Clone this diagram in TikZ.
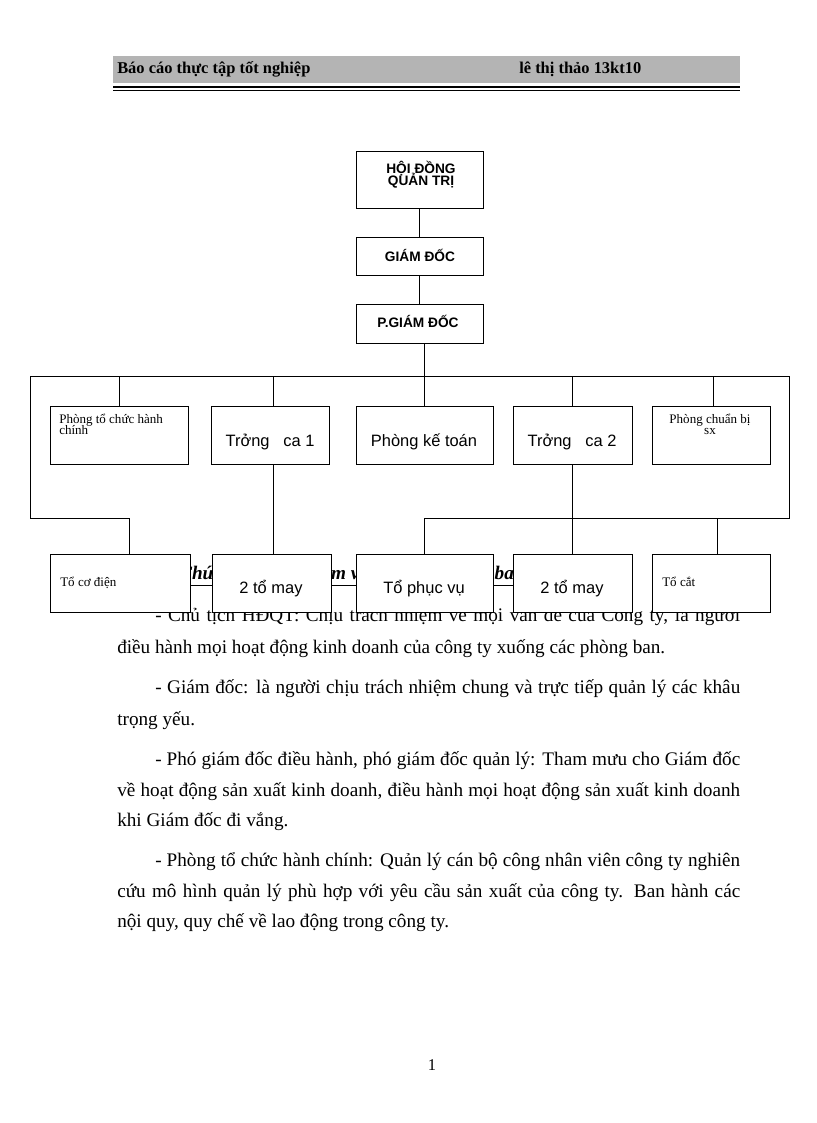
\documentclass[tikz,border=0pt]{standalone}
\usepackage{fontspec}
\setmainfont{Liberation Serif}
\newfontfamily\arialf{Liberation Sans}
\newcommand\orgbox[5]{\node[obox, minimum width={(#4-#2)*0.7294pt}, minimum height={(#5-#3)*0.7294pt}] (#1) at ({(#2+#4)/2},{(#3+#5)/2}) {};}
\newcommand\fullline[1]{\makebox[454.4pt][s]{#1}}
\newcommand\indline[1]{\makebox[426.7pt][s]{#1}}
\definecolor{hdrgray}{RGB}{180,180,180}
\begin{document}
\begin{tikzpicture}[x=0.7294pt,y=-0.7294pt,
  obox/.style={draw, fill=white, inner sep=0pt, line width=0.7pt},
  conn/.style={line width=0.7pt},
  body/.style={anchor=base west, inner sep=0pt, font=\fontsize{14}{16}\selectfont},
  hdr/.style={anchor=base west, inner sep=0pt, font=\fontsize{12}{14}\selectfont\bfseries},
  small/.style={inner sep=0pt, font=\fontsize{9.5}{10}\selectfont},
  big/.style={anchor=base, inner sep=0pt, font=\arialf\fontsize{12}{14}\selectfont},
  top/.style={anchor=base, inner sep=0pt, font=\arialf\bfseries\fontsize{10}{10}\selectfont}]
\useasboundingbox (0,0) rectangle (816,1123);
% header
\fill[hdrgray] (113,56) rectangle (740,83);
\draw[line width=1.5pt] (113,87.3) -- (740,87.3);
\draw[line width=0.6pt] (113,90.8) -- (740,90.8);
\node[hdr] (h1) at (117,73) {Báo cáo thực tập tốt nghiệp};
\node[hdr] (h2) at (519,73) {lê thị thảo 13kt10};
% heading hidden behind boxes
\node[anchor=base west, inner sep=0pt, font=\fontsize{14}{16}\selectfont\bfseries\itshape] (head) at (179,579) {\underline{Chức năng và nhiệm vụ của các phòng ban}};
% body text
\node[body] (l1) at (155,621) {\indline{- Chủ tịch HĐQT: Chịu trách nhiệm về mọi vấn đề của Công ty, là người}};
\node[body] (l2) at (117,653) {điều hành mọi hoạt động kinh doanh của công ty xuống các phòng ban.};
\node[body] (l3) at (155,693) {\indline{- Giám đốc: là người chịu trách nhiệm chung và trực tiếp quản lý các khâu}};
\node[body] (l4) at (117,725) {trọng yếu.};
\node[body] (l5) at (155,765) {\indline{- Phó giám đốc điều hành, phó giám đốc quản lý: Tham mưu cho Giám đốc}};
\node[body] (l6) at (117,796) {\fullline{về hoạt động sản xuất kinh doanh, điều hành mọi hoạt động sản xuất kinh doanh}};
\node[body] (l7) at (117,826) {khi Giám đốc đi vắng.};
\node[body] (l8) at (155,866) {\indline{- Phòng tổ chức hành chính: Quản lý cán bộ công nhân viên công ty nghiên}};
\node[body] (l9) at (117,897) {\fullline{cứu mô hình quản lý phù hợp với yêu cầu sản xuất của công ty. Ban hành các}};
\node[body] (l10) at (117,927) {nội quy, quy chế về lao động trong công ty.};
\node[anchor=base, inner sep=0pt, font=\fontsize{12}{14}\selectfont] (pg) at (432,1070) {1};
% boxes
\orgbox{hdqt}{356}{151}{483}{208}
\orgbox{gd}{356}{237}{483}{275}
\orgbox{pgd}{356}{304}{483}{343}
\orgbox{ptc}{50}{406}{188}{464}
\orgbox{tc1}{211}{406}{329}{464}
\orgbox{pkt}{356}{406}{493}{464}
\orgbox{tc2}{513}{406}{632}{464}
\orgbox{pcb}{652}{406}{770}{464}
\orgbox{tcd}{50}{554}{190}{612}
\orgbox{may1}{212}{554}{331}{612}
\orgbox{tpv}{356}{554}{493}{612}
\orgbox{may2}{513}{554}{632}{612}
\orgbox{tcat}{652}{554}{770}{612}
% box labels
\node[top] (t1a) at (421,173) {HỘI ĐỒNG};
\node[top] (t1b) at (421,185.5) {QUẢN TRỊ};
\node[top] (t2) at (420,261) {GIÁM ĐỐC};
\node[top] (t3) at (418,327) {P.GIÁM ĐỐC};
\node[small, anchor=base west] (t4a) at (59,423) {Phòng tổ chức hành};
\node[small, anchor=base west] (t4b) at (59,434) {chính};
\node[big] (t5) at (270,446) {Trởng\ \ \ ca 1};
\node[big] (t6) at (424,446) {Phòng kế toán};
\node[big] (t7) at (572,446) {Trởng\ \ \ ca 2};
\node[small, anchor=base] (t8a) at (710,423) {Phòng chuẩn bị};
\node[small, anchor=base] (t8b) at (710,434) {sx};
\node[small, anchor=base west] (t9) at (60,586) {Tổ cơ điện};
\node[big] (t10) at (271,593) {2 tổ may};
\node[big] (t11) at (424,593) {Tổ phục vụ};
\node[big] (t12) at (572,593) {2 tổ may};
\node[small, anchor=base west] (t13) at (662,586) {Tổ cắt};
% connectors
\coordinate (busL) at (30,376);
\coordinate (busR) at (789,376);
\coordinate (lowL) at (30,518);
\coordinate (lowL2) at (129,518);
\coordinate (lowR) at (789,518);
\coordinate (d1) at (273,376);
\coordinate (d2) at (717,518);
\coordinate (d3) at (713,376);
\draw[conn] (hdqt.south) -- (gd.north);
\draw[conn] (gd.south) -- (pgd.north);
\draw[conn] (pkt.north |- pgd.south) -- (pkt.north);
\draw[conn] (busL) -- (busR);
\draw[conn] (busL) -- (lowL) -- (lowL2) -- (lowL2 |- tcd.north);
\draw[conn] (ptc.north |- busL) -- (ptc.north);
\draw[conn] (d1) -- (d1 |- tc1.north);
\draw[conn] (d1 |- tc1.south) -- (d1 |- may1.north);
\draw[conn] (tc2.north |- busL) -- (tc2.north);
\draw[conn] (tc2.south) -- (tc2.south |- may2.north);
\draw[conn] (d3) -- (d3 |- pcb.north);
\draw[conn] (busR) -- (lowR) -- (tpv.north |- lowR) -- (tpv.north);
\draw[conn] (d2) -- (d2 |- tcat.north);
\end{tikzpicture}
\end{document}
